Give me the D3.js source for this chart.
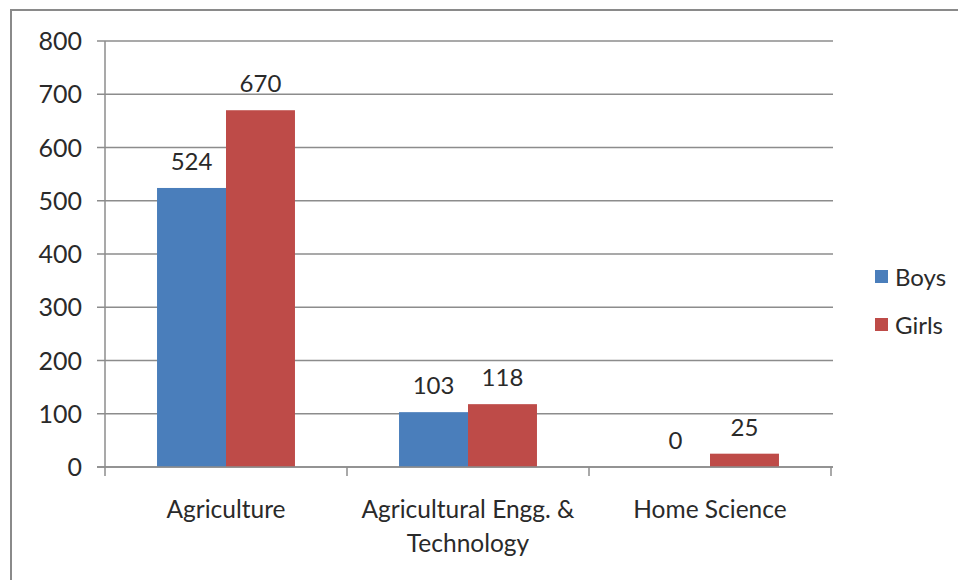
<!DOCTYPE html>
<html>
<head>
<meta charset="utf-8">
<script src="https://cdnjs.cloudflare.com/ajax/libs/d3/7.8.5/d3.min.js"></script>
<style>
  body { margin: 0; background: #fff; }
  svg text { font-family: Lato, "Open Sans", sans-serif; fill: #2a2a2a; }
</style>
</head>
<body>
<div id="chart"></div>
<script>
var categories = [["Agriculture"], ["Agricultural Engg. &", "Technology"], ["Home Science"]];
var seriesNames = ["Boys", "Girls"];
var boys = [524, 103, 0];
var girls = [670, 118, 25];
var yTicks = [0, 100, 200, 300, 400, 500, 600, 700, 800];
var colors = ["#4a7ebb", "#be4b48"];

var W = 958, H = 580;
var g = {};
g.margin = {top: 41, left: 105, right: 127, bottom: 113};
g.width = W - g.margin.left - g.margin.right;
g.height = H - g.margin.top - g.margin.bottom;

var svg = d3.select("#chart")
  .append("svg")
    .attr("width", W)
    .attr("height", H);

// outer chart border
svg.append("rect")
  .attr("x", 11).attr("y", 10)
  .attr("width", W + 20).attr("height", H + 20)
  .attr("fill", "none")
  .attr("stroke", "#8a8a8a")
  .attr("stroke-width", 2);

var plot = svg.append("g")
  .attr("transform", "translate(" + g.margin.left + "," + g.margin.top + ")");

g.x = d3.scaleBand().domain(d3.range(categories.length)).range([0, g.width]).paddingInner(0).paddingOuter(0);
g.y = d3.scaleLinear().domain([0, 800]).range([g.height, 0]);
g.xs = d3.scaleBand().domain(d3.range(seriesNames.length)).range([g.x.bandwidth() * 0.215, g.x.bandwidth() * 0.785]);

// gridlines + y ticks
plot.append("g")
  .selectAll("line").data(yTicks)
  .enter().append("line")
    .attr("x1", -8)
    .attr("x2", g.width + 2)
    .attr("y1", function(d) { return g.y(d); })
    .attr("y2", function(d) { return g.y(d); })
    .attr("stroke", "#8c8c8c")
    .attr("stroke-width", 1.5);

plot.append("g")
  .selectAll("text").data(yTicks)
  .enter().append("text")
    .attr("x", -23)
    .attr("y", function(d) { return g.y(d); })
    .attr("dy", "0.36em")
    .attr("text-anchor", "end")
    .style("font-size", "25px")
    .text(function(d) { return d; });

// bars
var series = [boys, girls];
series.forEach(function(vals, s) {
  var grp = plot.append("g");
  grp.selectAll("rect").data(vals)
    .enter().append("rect")
      .attr("x", function(d, i) { return g.x(i) + g.xs(s); })
      .attr("width", g.xs.bandwidth())
      .attr("y", function(d) { return g.y(d); })
      .attr("height", function(d) { return g.height - g.y(d); })
      .attr("fill", colors[s]);
  grp.selectAll("text").data(vals)
    .enter().append("text")
      .attr("x", function(d, i) { return g.x(i) + g.xs(s) + g.xs.bandwidth() / 2; })
      .attr("y", function(d) { return g.y(d) - 18; })
      .attr("text-anchor", "middle")
      .style("font-size", "24px")
      .text(function(d) { return d; });
});

// axes lines
plot.append("line")
  .attr("x1", 0).attr("x2", 0)
  .attr("y1", 0).attr("y2", g.height + 9)
  .attr("stroke", "#8c8c8c").attr("stroke-width", 1.5);
plot.append("line")
  .attr("x1", -8).attr("x2", g.width + 2)
  .attr("y1", g.height).attr("y2", g.height)
  .attr("stroke", "#8c8c8c").attr("stroke-width", 1.5);
plot.append("g")
  .selectAll("line").data(d3.range(1, categories.length + 1))
  .enter().append("line")
    .attr("x1", function(d) { return d * g.x.bandwidth(); })
    .attr("x2", function(d) { return d * g.x.bandwidth(); })
    .attr("y1", g.height)
    .attr("y2", g.height + 9)
    .attr("stroke", "#8c8c8c").attr("stroke-width", 1.5);

// category labels
var cl = plot.append("g")
  .selectAll("text").data(categories)
  .enter().append("text")
    .attr("text-anchor", "middle")
    .attr("transform", function(d, i) { return "translate(" + (g.x(i) + g.x.bandwidth() / 2) + "," + (g.height + 51) + ")"; })
    .style("font-size", "24.5px");
cl.selectAll("tspan").data(function(d) { return d; })
  .enter().append("tspan")
    .attr("x", 0)
    .attr("y", function(d, i) { return i * 34; })
    .text(function(d) { return d; });

// legend
var legend = svg.append("g")
  .attr("transform", "translate(875,270)");
var li = legend.selectAll("g").data(seriesNames)
  .enter().append("g")
    .attr("transform", function(d, i) { return "translate(0," + i * 48 + ")"; });
li.append("rect")
  .attr("width", 13).attr("height", 13)
  .attr("fill", function(d, i) { return colors[i]; });
li.append("text")
  .attr("x", 20)
  .attr("y", 7)
  .attr("dy", "0.36em")
  .style("font-size", "24px")
  .text(function(d) { return d; });
</script>
</body>
</html>
